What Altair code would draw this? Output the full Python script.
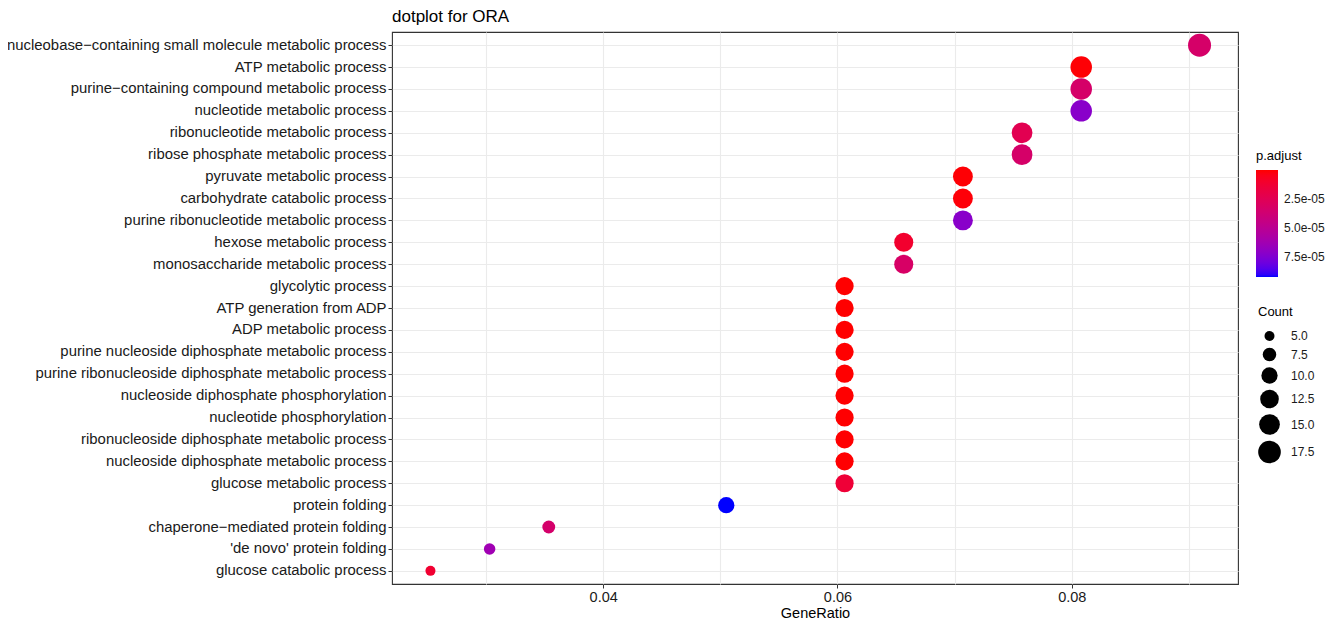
import altair as alt
import pandas as pd

terms = [
    "nucleobase−containing small molecule metabolic process",
    "ATP metabolic process",
    "purine−containing compound metabolic process",
    "nucleotide metabolic process",
    "ribonucleotide metabolic process",
    "ribose phosphate metabolic process",
    "pyruvate metabolic process",
    "carbohydrate catabolic process",
    "purine ribonucleotide metabolic process",
    "hexose metabolic process",
    "monosaccharide metabolic process",
    "glycolytic process",
    "ATP generation from ADP",
    "ADP metabolic process",
    "purine nucleoside diphosphate metabolic process",
    "purine ribonucleoside diphosphate metabolic process",
    "nucleoside diphosphate phosphorylation",
    "nucleotide phosphorylation",
    "ribonucleoside diphosphate metabolic process",
    "nucleoside diphosphate metabolic process",
    "glucose metabolic process",
    "protein folding",
    "chaperone−mediated protein folding",
    "'de novo' protein folding",
    "glucose catabolic process",
]
counts = [18, 16, 16, 16, 15, 15, 14, 14, 14, 13, 13, 12, 12, 12, 12, 12, 12, 12, 12, 12, 12, 10, 7, 6, 5]
gene_ratio = [c / 198 for c in counts]
p_adjust = [3.3e-5, 1.0e-6, 3.3e-5, 7.2e-5, 2.4e-5, 3.3e-5, 1.0e-6, 1.5e-6, 7.2e-5,
            1.1e-5, 3.2e-5, 3e-7, 3e-7, 3e-7, 4e-7, 4e-7, 4e-7, 5e-7, 5e-7, 6e-7,
            1.4e-5, 9.2e-5, 3.4e-5, 6.3e-5, 1.2e-5]

x_grid = [0.03, 0.04, 0.05, 0.06, 0.07, 0.08, 0.09]
color_ticks = [2.5e-5, 5.0e-5, 7.5e-5]
size_ticks = [5, 7.5, 10, 12.5, 15, 17.5]

df = pd.DataFrame({"Description": terms, "Count": counts,
                   "GeneRatio": gene_ratio, "padj": p_adjust})

span = max(gene_ratio) - min(gene_ratio)
xdom = [min(gene_ratio) - 0.05 * span, max(gene_ratio) + 0.05 * span]

FONT = "Liberation Sans"
major = "round(datum.value*100) % 2 == 0"

chart = alt.Chart(df).mark_circle(opacity=1).encode(
    x=alt.X("GeneRatio:Q",
            scale=alt.Scale(domain=xdom, nice=False, zero=False),
            axis=alt.Axis(values=x_grid, title="GeneRatio", grid=True,
                          gridColor="#ebebeb", gridWidth=1.1,
                          labelExpr=f"{major} ? format(datum.value, '.2f') : ''",
                          tickOpacity=alt.condition(major, alt.value(1), alt.value(0)),
                          tickColor="#333333", tickSize=4, domain=False,
                          labelFont=FONT, labelFontSize=14.5, labelColor="#1a1a1a",
                          labelPadding=2, titleFont=FONT, titleFontSize=14.5,
                          titleFontWeight="normal", titleColor="#000000", titlePadding=3)),
    y=alt.Y("Description:N", sort=terms,
            scale=alt.Scale(type="point", padding=0.6),
            axis=alt.Axis(title=None, grid=True, gridColor="#ebebeb", gridWidth=1.1,
                          tickColor="#333333", tickSize=4, domain=False,
                          labelFont=FONT, labelFontSize=14.9, labelColor="#1a1a1a",
                          labelPadding=2, labelLimit=700, labelBaseline="middle")),
    color=alt.Color("padj:Q", title="p.adjust",
                    scale=alt.Scale(domain=[max(p_adjust), min(p_adjust)],
                                    range=["#0000ff", "#ff0000"], interpolate="lab"),
                    legend=alt.Legend(orient="none", legendX=864, legendY=118,
                                      values=color_ticks, gradientLength=107,
                                      gradientThickness=22, direction="vertical",
                                      labelExpr="replace(format(datum.value, '.1e'), 'e-', 'e-0')",
                                      labelFont=FONT, labelFontSize=12, labelColor="#1a1a1a",
                                      labelOffset=6, titleFont=FONT, titleFontSize=13,
                                      titleFontWeight="normal", titlePadding=7,
                                      gradientStrokeWidth=0)),
    size=alt.Size("Count:Q",
                  scale=alt.Scale(domain=[min(counts), max(counts)], range=[100, 529], zero=False),
                  legend=alt.Legend(orient="none", legendX=866, legendY=274,
                                    values=size_ticks, format=".1f",
                                    symbolFillColor="#000000", symbolStrokeWidth=0,
                                    symbolType="circle", symbolOpacity=1,
                                    labelFont=FONT, labelFontSize=12, labelColor="#1a1a1a",
                                    labelOffset=10, rowPadding=5.5,
                                    titleFont=FONT, titleFontSize=13,
                                    titleFontWeight="normal", titlePadding=11)),
).properties(
    width=846, height=552,
    title=alt.Title("dotplot for ORA", anchor="start", frame="group", font=FONT,
                    fontSize=17, fontWeight="normal", color="#000000", offset=6),
    autosize=alt.AutoSizeParams(type="none"),
    padding={"left": 384, "top": 24, "right": 90, "bottom": 40},
    background="white",
).configure_view(stroke="#333333", strokeWidth=1.1)

chart.save("out.html", embed_options={"renderer": "svg", "actions": False})
